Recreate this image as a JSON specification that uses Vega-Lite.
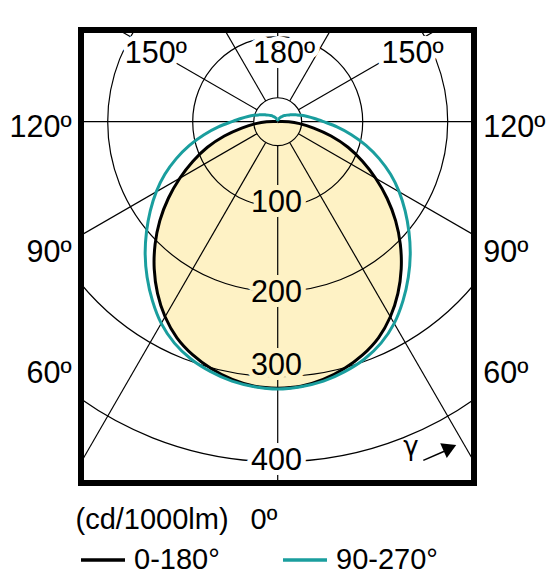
{
  "$schema": "https://vega.github.io/schema/vega-lite/v6.json",
  "width": 393,
  "height": 453,
  "autosize": "none",
  "padding": {"left": 81, "top": 30, "right": 82, "bottom": 98},
  "background": "white",
  "config": {
    "view": {"stroke": "black", "strokeWidth": 6},
    "font": "Liberation Sans",
    "text": {"font": "Liberation Sans", "color": "black"},
    "legend": {
      "orient": "none",
      "legendX": -2,
      "legendY": 506,
      "direction": "horizontal",
      "symbolType": "stroke",
      "symbolSize": 1936,
      "symbolStrokeWidth": 3.5,
      "labelFont": "Liberation Sans",
      "labelFontSize": 29,
      "labelColor": "black",
      "labelOffset": 7,
      "labelLimit": 0,
      "columnPadding": 56,
      "padding": 0
    }
  },
  "datasets": {
    "curves": [
      {"plane": "0-180°", "g": -180, "cd": 0}, {"plane": "0-180°", "g": -175, "cd": 0}, {"plane": "0-180°", "g": -170, "cd": 0}, {"plane": "0-180°", "g": -165, "cd": 0},
      {"plane": "0-180°", "g": -160, "cd": 0}, {"plane": "0-180°", "g": -155, "cd": 0}, {"plane": "0-180°", "g": -150, "cd": 0}, {"plane": "0-180°", "g": -145, "cd": 0},
      {"plane": "0-180°", "g": -140, "cd": 0}, {"plane": "0-180°", "g": -135, "cd": 0}, {"plane": "0-180°", "g": -130, "cd": 0}, {"plane": "0-180°", "g": -125, "cd": 0},
      {"plane": "0-180°", "g": -120, "cd": 0}, {"plane": "0-180°", "g": -115, "cd": 0}, {"plane": "0-180°", "g": -110, "cd": 0}, {"plane": "0-180°", "g": -105, "cd": 0},
      {"plane": "0-180°", "g": -100, "cd": 1}, {"plane": "0-180°", "g": -95, "cd": 4}, {"plane": "0-180°", "g": -90, "cd": 13}, {"plane": "0-180°", "g": -85, "cd": 26},
      {"plane": "0-180°", "g": -80, "cd": 43}, {"plane": "0-180°", "g": -75, "cd": 65}, {"plane": "0-180°", "g": -70, "cd": 88}, {"plane": "0-180°", "g": -65, "cd": 110},
      {"plane": "0-180°", "g": -60, "cd": 133}, {"plane": "0-180°", "g": -55, "cd": 157}, {"plane": "0-180°", "g": -50, "cd": 181}, {"plane": "0-180°", "g": -45, "cd": 204},
      {"plane": "0-180°", "g": -40, "cd": 226}, {"plane": "0-180°", "g": -35, "cd": 246.5}, {"plane": "0-180°", "g": -30, "cd": 265}, {"plane": "0-180°", "g": -25, "cd": 280.5},
      {"plane": "0-180°", "g": -20, "cd": 292}, {"plane": "0-180°", "g": -15, "cd": 301}, {"plane": "0-180°", "g": -10, "cd": 308}, {"plane": "0-180°", "g": -5, "cd": 312.5},
      {"plane": "0-180°", "g": 0, "cd": 313.5},
      {"plane": "0-180°", "g": 5, "cd": 312.5}, {"plane": "0-180°", "g": 10, "cd": 308}, {"plane": "0-180°", "g": 15, "cd": 301}, {"plane": "0-180°", "g": 20, "cd": 292},
      {"plane": "0-180°", "g": 25, "cd": 280.5}, {"plane": "0-180°", "g": 30, "cd": 265}, {"plane": "0-180°", "g": 35, "cd": 246.5}, {"plane": "0-180°", "g": 40, "cd": 226},
      {"plane": "0-180°", "g": 45, "cd": 204}, {"plane": "0-180°", "g": 50, "cd": 181}, {"plane": "0-180°", "g": 55, "cd": 157}, {"plane": "0-180°", "g": 60, "cd": 133},
      {"plane": "0-180°", "g": 65, "cd": 110}, {"plane": "0-180°", "g": 70, "cd": 88}, {"plane": "0-180°", "g": 75, "cd": 65}, {"plane": "0-180°", "g": 80, "cd": 43},
      {"plane": "0-180°", "g": 85, "cd": 26}, {"plane": "0-180°", "g": 90, "cd": 13}, {"plane": "0-180°", "g": 95, "cd": 4}, {"plane": "0-180°", "g": 100, "cd": 1},
      {"plane": "0-180°", "g": 105, "cd": 0}, {"plane": "0-180°", "g": 110, "cd": 0}, {"plane": "0-180°", "g": 115, "cd": 0}, {"plane": "0-180°", "g": 120, "cd": 0},
      {"plane": "0-180°", "g": 125, "cd": 0}, {"plane": "0-180°", "g": 130, "cd": 0}, {"plane": "0-180°", "g": 135, "cd": 0}, {"plane": "0-180°", "g": 140, "cd": 0},
      {"plane": "0-180°", "g": 145, "cd": 0}, {"plane": "0-180°", "g": 150, "cd": 0}, {"plane": "0-180°", "g": 155, "cd": 0}, {"plane": "0-180°", "g": 160, "cd": 0},
      {"plane": "0-180°", "g": 165, "cd": 0}, {"plane": "0-180°", "g": 170, "cd": 0}, {"plane": "0-180°", "g": 175, "cd": 0}, {"plane": "0-180°", "g": 180, "cd": 0},
      {"plane": "90-270°", "g": -180, "cd": 2}, {"plane": "90-270°", "g": -175, "cd": 2}, {"plane": "90-270°", "g": -170, "cd": 2.2}, {"plane": "90-270°", "g": -165, "cd": 2.8},
      {"plane": "90-270°", "g": -160, "cd": 3.5}, {"plane": "90-270°", "g": -155, "cd": 4.5}, {"plane": "90-270°", "g": -150, "cd": 5.5}, {"plane": "90-270°", "g": -145, "cd": 6.7},
      {"plane": "90-270°", "g": -140, "cd": 8}, {"plane": "90-270°", "g": -135, "cd": 10}, {"plane": "90-270°", "g": -130, "cd": 11.5}, {"plane": "90-270°", "g": -125, "cd": 13.5},
      {"plane": "90-270°", "g": -120, "cd": 16}, {"plane": "90-270°", "g": -115, "cd": 19.5}, {"plane": "90-270°", "g": -110, "cd": 23.5}, {"plane": "90-270°", "g": -105, "cd": 29},
      {"plane": "90-270°", "g": -100, "cd": 35.5}, {"plane": "90-270°", "g": -95, "cd": 43.5}, {"plane": "90-270°", "g": -90, "cd": 54}, {"plane": "90-270°", "g": -85, "cd": 70},
      {"plane": "90-270°", "g": -80, "cd": 88}, {"plane": "90-270°", "g": -75, "cd": 107.5}, {"plane": "90-270°", "g": -70, "cd": 127}, {"plane": "90-270°", "g": -65, "cd": 146.5},
      {"plane": "90-270°", "g": -60, "cd": 165}, {"plane": "90-270°", "g": -55, "cd": 183}, {"plane": "90-270°", "g": -50, "cd": 201.5}, {"plane": "90-270°", "g": -45, "cd": 220.5},
      {"plane": "90-270°", "g": -40, "cd": 239}, {"plane": "90-270°", "g": -35, "cd": 257}, {"plane": "90-270°", "g": -30, "cd": 274}, {"plane": "90-270°", "g": -25, "cd": 287.5},
      {"plane": "90-270°", "g": -20, "cd": 297.5}, {"plane": "90-270°", "g": -15, "cd": 304.5}, {"plane": "90-270°", "g": -10, "cd": 310}, {"plane": "90-270°", "g": -5, "cd": 313},
      {"plane": "90-270°", "g": 0, "cd": 314.5},
      {"plane": "90-270°", "g": 5, "cd": 313}, {"plane": "90-270°", "g": 10, "cd": 310}, {"plane": "90-270°", "g": 15, "cd": 304.5}, {"plane": "90-270°", "g": 20, "cd": 297.5},
      {"plane": "90-270°", "g": 25, "cd": 287.5}, {"plane": "90-270°", "g": 30, "cd": 274}, {"plane": "90-270°", "g": 35, "cd": 257}, {"plane": "90-270°", "g": 40, "cd": 239},
      {"plane": "90-270°", "g": 45, "cd": 220.5}, {"plane": "90-270°", "g": 50, "cd": 201.5}, {"plane": "90-270°", "g": 55, "cd": 183}, {"plane": "90-270°", "g": 60, "cd": 165},
      {"plane": "90-270°", "g": 65, "cd": 146.5}, {"plane": "90-270°", "g": 70, "cd": 127}, {"plane": "90-270°", "g": 75, "cd": 107.5}, {"plane": "90-270°", "g": 80, "cd": 88},
      {"plane": "90-270°", "g": 85, "cd": 70}, {"plane": "90-270°", "g": 90, "cd": 54}, {"plane": "90-270°", "g": 95, "cd": 43.5}, {"plane": "90-270°", "g": 100, "cd": 35.5},
      {"plane": "90-270°", "g": 105, "cd": 29}, {"plane": "90-270°", "g": 110, "cd": 23.5}, {"plane": "90-270°", "g": 115, "cd": 19.5}, {"plane": "90-270°", "g": 120, "cd": 16},
      {"plane": "90-270°", "g": 125, "cd": 13.5}, {"plane": "90-270°", "g": 130, "cd": 11.5}, {"plane": "90-270°", "g": 135, "cd": 10}, {"plane": "90-270°", "g": 140, "cd": 8},
      {"plane": "90-270°", "g": 145, "cd": 6.7}, {"plane": "90-270°", "g": 150, "cd": 5.5}, {"plane": "90-270°", "g": 155, "cd": 4.5}, {"plane": "90-270°", "g": 160, "cd": 3.5},
      {"plane": "90-270°", "g": 165, "cd": 2.8}, {"plane": "90-270°", "g": 170, "cd": 2.2}, {"plane": "90-270°", "g": 175, "cd": 2}, {"plane": "90-270°", "g": 180, "cd": 2}
    ],
    "rays": [
      {"g": -150}, {"g": -120}, {"g": -90}, {"g": -60}, {"g": -30}, {"g": 0},
      {"g": 30}, {"g": 60}, {"g": 90}, {"g": 120}, {"g": 150}, {"g": 180}
    ],
    "rings": [{"r": 28.2}, {"r": 100}, {"r": 200}, {"r": 300}, {"r": 400}],
    "innerLabels": [
      {"label": "150º", "X": -143.4, "Y": -68.7},
      {"label": "180º", "X": 7.4, "Y": -68.7},
      {"label": "150º", "X": 158.6, "Y": -68.7},
      {"label": "100", "X": -1.5, "Y": 105.9},
      {"label": "200", "X": -1.5, "Y": 211.8},
      {"label": "300", "X": -1.5, "Y": 298},
      {"label": "400", "X": -1.5, "Y": 409.8}
    ],
    "leftLabels": [
      {"label": "120º", "X": -242.4, "Y": 17.6},
      {"label": "90º", "X": -242.4, "Y": 164.7},
      {"label": "60º", "X": -242.4, "Y": 307.8}
    ],
    "rightLabels": [
      {"label": "120º", "X": 241.9, "Y": 17.6},
      {"label": "90º", "X": 241.9, "Y": 164.7},
      {"label": "60º", "X": 241.9, "Y": 307.8}
    ],
    "unitLabels": [
      {"label": "(cd/1000lm)", "X": -237.9, "Y": 479.5},
      {"label": "0º", "X": -32, "Y": 479.5}
    ],
    "gammaLabel": [{"label": "γ", "X": 156.6, "Y": 392.1}],
    "gammaArrow": [{"X": 171.3, "Y": 398.5, "X2": 198, "Y2": 386.9}],
    "gammaHead": [{"X": 202.5, "Y": 383.6}]
  },
  "encoding": {
    "x": {"field": "X", "type": "quantitative", "scale": {"domain": [-231.4, 230.9], "nice": false, "zero": false}, "axis": null},
    "y": {"field": "Y", "type": "quantitative", "scale": {"domain": [-107.9, 425.1], "nice": false, "zero": false, "reverse": true}, "axis": null}
  },
  "layer": [
    {
      "data": {"name": "curves"},
      "transform": [
        {"filter": "datum.plane == '0-180°'"},
        {"calculate": "datum.cd * sin(datum.g * PI / 180)", "as": "X"},
        {"calculate": "datum.cd * cos(datum.g * PI / 180)", "as": "Y"}
      ],
      "mark": {"type": "line", "interpolate": "catmull-rom", "fill": "#fef2c5", "fillOpacity": 1, "strokeOpacity": 0, "clip": true},
      "encoding": {"order": {"field": "g", "type": "quantitative"}}
    },
    {
      "data": {"name": "rays"},
      "transform": [
        {"calculate": "28.2 * sin(datum.g * PI / 180)", "as": "X"},
        {"calculate": "28.2 * cos(datum.g * PI / 180)", "as": "Y"},
        {"calculate": "700 * sin(datum.g * PI / 180)", "as": "X2"},
        {"calculate": "700 * cos(datum.g * PI / 180)", "as": "Y2"}
      ],
      "mark": {"type": "rule", "color": "black", "strokeWidth": 1.2, "clip": true},
      "encoding": {"x2": {"field": "X2"}, "y2": {"field": "Y2"}}
    },
    {
      "data": {"name": "rings"},
      "transform": [
        {"calculate": "0", "as": "X"},
        {"calculate": "0", "as": "Y"}
      ],
      "mark": {"type": "point", "shape": "circle", "filled": false, "stroke": "black", "strokeWidth": 1.2, "opacity": 1, "clip": true},
      "encoding": {
        "size": {"field": "r", "type": "quantitative", "scale": {"type": "pow", "exponent": 2, "domain": [0, 400], "range": [0, 462400], "zero": true}, "legend": null}
      }
    },
    {
      "data": {"name": "innerLabels"},
      "mark": {"type": "text", "align": "center", "baseline": "alphabetic", "fontSize": 30.5, "strokeWidth": 10, "strokeJoin": "round"},
      "encoding": {
        "text": {"field": "label", "type": "nominal"},
        "stroke": {"condition": {"test": "datum.label == '100' || datum.label == '200' || datum.label == '300'", "value": "#fef2c5"}, "value": "white"},
        "fill": {"condition": {"test": "datum.label == '100' || datum.label == '200' || datum.label == '300'", "value": "#fef2c5"}, "value": "white"}
      }
    },
    {
      "data": {"name": "curves"},
      "transform": [
        {"calculate": "datum.cd * sin(datum.g * PI / 180)", "as": "X"},
        {"calculate": "datum.cd * cos(datum.g * PI / 180)", "as": "Y"}
      ],
      "mark": {"type": "line", "interpolate": "catmull-rom", "strokeWidth": 3, "clip": true},
      "encoding": {
        "color": {"field": "plane", "type": "nominal", "scale": {"domain": ["0-180°", "90-270°"], "range": ["black", "#1a9e9e"]}, "legend": {"title": null}},
        "order": {"field": "g", "type": "quantitative"}
      }
    },
    {
      "data": {"name": "innerLabels"},
      "mark": {"type": "text", "align": "center", "baseline": "alphabetic", "fontSize": 30.5, "color": "black"},
      "encoding": {"text": {"field": "label", "type": "nominal"}}
    },
    {
      "data": {"name": "leftLabels"},
      "mark": {"type": "text", "align": "right", "baseline": "alphabetic", "fontSize": 30.5, "color": "black"},
      "encoding": {"text": {"field": "label", "type": "nominal"}}
    },
    {
      "data": {"name": "rightLabels"},
      "mark": {"type": "text", "align": "left", "baseline": "alphabetic", "fontSize": 30.5, "color": "black"},
      "encoding": {"text": {"field": "label", "type": "nominal"}}
    },
    {
      "data": {"name": "unitLabels"},
      "mark": {"type": "text", "align": "left", "baseline": "alphabetic", "fontSize": 29, "color": "black"},
      "encoding": {"text": {"field": "label", "type": "nominal"}}
    },
    {
      "data": {"name": "gammaLabel"},
      "mark": {"type": "text", "align": "center", "baseline": "alphabetic", "fontSize": 26, "font": "DejaVu Sans", "color": "black"},
      "encoding": {"text": {"field": "label", "type": "nominal"}}
    },
    {
      "data": {"name": "gammaArrow"},
      "mark": {"type": "rule", "color": "black", "strokeWidth": 1.5},
      "encoding": {"x2": {"field": "X2"}, "y2": {"field": "Y2"}}
    },
    {
      "data": {"name": "gammaHead"},
      "mark": {"type": "point", "shape": "triangle-right", "filled": true, "color": "black", "opacity": 1, "size": 260, "angle": -24},
      "encoding": {}
    }
  ]
}
